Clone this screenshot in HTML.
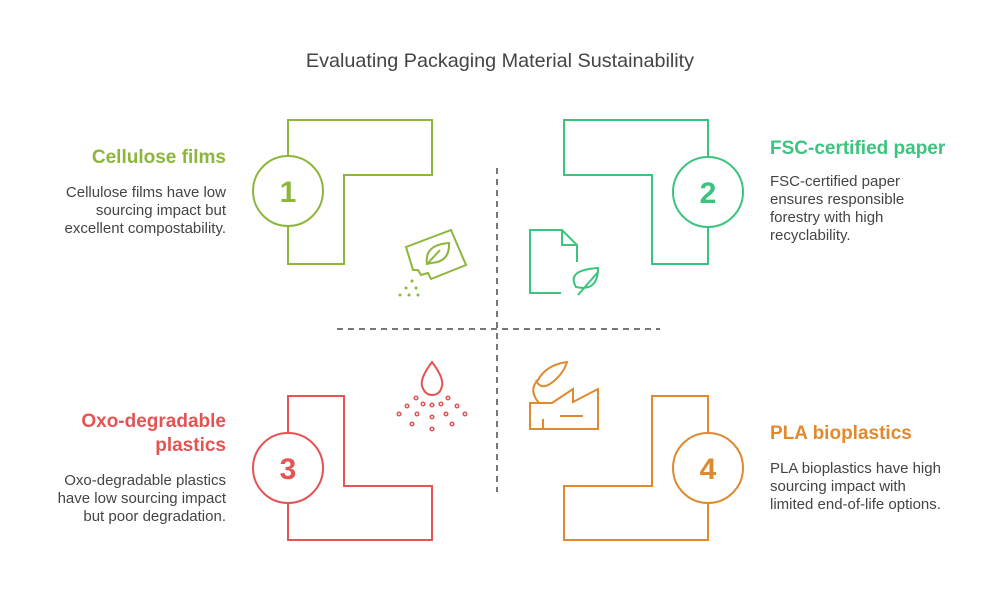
<!DOCTYPE html>
<html><head><style>
html,body{margin:0;padding:0;background:#fff;}
body{width:1000px;height:613px;position:relative;font-family:"Liberation Sans",sans-serif;overflow:hidden;}
.t{position:absolute;font-size:15px;line-height:18px;color:#444;}
.h{position:absolute;font-size:19px;font-weight:bold;}
</style></head><body>
<svg width="1000" height="613" style="position:absolute;left:0;top:0" fill="none" stroke-width="2">
<text x="500" y="67" text-anchor="middle" font-family="Liberation Sans" font-size="19.8" fill="#444" stroke="none">Evaluating Packaging Material Sustainability</text>
<line x1="497" y1="168" x2="497" y2="492" stroke="#777" stroke-dasharray="6,5"/>
<line x1="337" y1="329" x2="660" y2="329" stroke="#777" stroke-dasharray="6,5"/>
<path d="M288 120H432V175H344V264H288Z" stroke="#8db63c"/>
<circle cx="288" cy="191" r="35" fill="#fff" stroke="#8db63c"/>
<text x="288" y="202" text-anchor="middle" font-family="Liberation Sans" font-weight="bold" font-size="30" fill="#8db63c" stroke="none">1</text>
<path d="M564 120H708V264H652V175H564Z" stroke="#3cc47f"/>
<circle cx="708" cy="192" r="35" fill="#fff" stroke="#3cc47f"/>
<text x="708" y="203" text-anchor="middle" font-family="Liberation Sans" font-weight="bold" font-size="30" fill="#3cc47f" stroke="none">2</text>
<path d="M288 396H344V486H432V540H288Z" stroke="#e55353"/>
<circle cx="288" cy="468" r="35" fill="#fff" stroke="#e55353"/>
<text x="288" y="479" text-anchor="middle" font-family="Liberation Sans" font-weight="bold" font-size="30" fill="#e55353" stroke="none">3</text>
<path d="M652 396H708V540H564V486H652Z" stroke="#e08a30"/>
<circle cx="708" cy="468" r="35" fill="#fff" stroke="#e08a30"/>
<text x="708" y="479" text-anchor="middle" font-family="Liberation Sans" font-weight="bold" font-size="30" fill="#e08a30" stroke="none">4</text>
<g stroke="#8db63c">
<path d="M406 247L451 230L466 265L431 279L428 273L421 275L418 270L413 270Z"/>
<path d="M427 264Q424 245 449 243Q450 262 431 263Z M428 263L440 250"/>
</g>
<g fill="#8db63c"><circle cx="412" cy="281" r="1.5"/><circle cx="406" cy="288" r="1.5"/><circle cx="416" cy="288" r="1.5"/><circle cx="400" cy="295" r="1.5"/><circle cx="409" cy="295" r="1.5"/><circle cx="418" cy="295" r="1.5"/></g>
<g stroke="#3cc47f">
<path d="M561 293H530V230H562L577 245V262 M562 230V245H577"/>
<path d="M578 295L598 272 M576 287Q566 270 598 268Q598 292 576 287Z"/>
</g>
<g stroke="#e55353"><path d="M432 362Q420 378 422 386Q425 395 432 395Q440 395 442 386Q444 378 432 362Z"/></g>
<g stroke="#e55353" stroke-width="1.5">
<circle cx="416" cy="398" r="1.8"/><circle cx="448" cy="398" r="1.8"/><circle cx="423" cy="404" r="1.8"/><circle cx="432" cy="405" r="1.8"/><circle cx="441" cy="404" r="1.8"/><circle cx="407" cy="406" r="1.8"/><circle cx="457" cy="406" r="1.8"/><circle cx="399" cy="414" r="1.8"/><circle cx="417" cy="414" r="1.8"/><circle cx="446" cy="414" r="1.8"/><circle cx="465" cy="414" r="1.8"/><circle cx="432" cy="417" r="1.8"/><circle cx="412" cy="424" r="1.8"/><circle cx="452" cy="424" r="1.8"/><circle cx="432" cy="429" r="1.8"/></g>
<g stroke="#e08a30">
<path d="M530 429V403H552L573 389V402L598 389V429Z M543 429V419 M560 416H583"/>
<path d="M539 403Q528 390 538 380Q546 365 567 362Q563 375 550 384Q540 390 536 380"/>
</g>
</svg>
<div class="h" style="right:774px;top:147px;color:#8db63c">Cellulose films</div>
<div class="t" style="right:774px;top:184px;text-align:right;width:172px">Cellulose films have low sourcing impact but excellent compostability.</div>
<div class="h" style="left:770px;top:138px;color:#3cc47f">FSC-certified paper</div>
<div class="t" style="left:770px;top:173px;width:148px">FSC-certified paper ensures responsible forestry with high recyclability.</div>
<div class="h" style="right:774px;top:410px;text-align:right;line-height:24px;color:#e55353">Oxo-degradable<br>plastics</div>
<div class="t" style="right:774px;top:472px;text-align:right;width:172px">Oxo-degradable plastics have low sourcing impact but poor degradation.</div>
<div class="h" style="left:770px;top:423px;color:#e08a30">PLA bioplastics</div>
<div class="t" style="left:770px;top:460px;width:186px">PLA bioplastics have high sourcing impact with<br>limited end-of-life options.</div>
</body></html>
